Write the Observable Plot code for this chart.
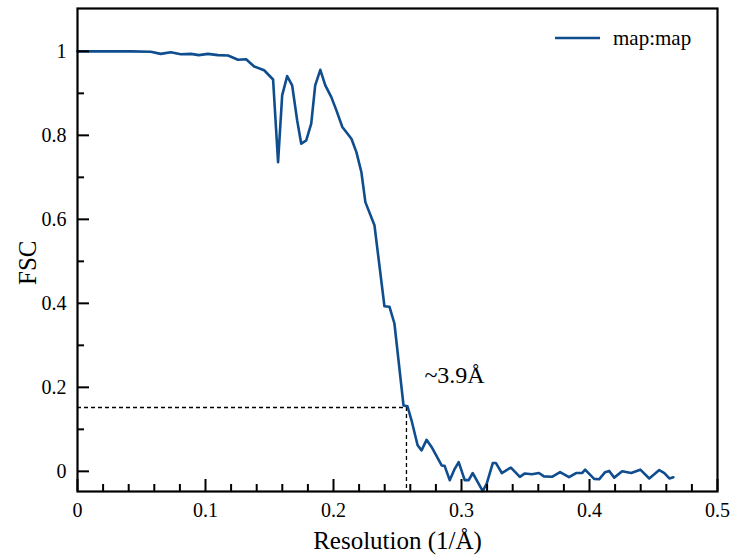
<!DOCTYPE html>
<html><head><meta charset="utf-8">
<script src="https://cdn.jsdelivr.net/npm/d3@7"></script>
<script src="https://cdn.jsdelivr.net/npm/@observablehq/plot@0.6"></script>
<style>
body{margin:0;background:#fff;}
</style>
</head><body><div id="chart"></div>
<script>
const resolution = [0,0.018,0.0415,0.0572,0.065,0.0729,0.0807,0.0886,0.0948,0.1019,0.1097,0.1176,0.1254,0.1317,0.138,0.1458,0.1528,0.1567,0.1599,0.1638,0.1677,0.1716,0.1748,0.1787,0.1826,0.1857,0.1897,0.1936,0.1983,0.2022,0.2069,0.2140,0.2179,0.2218,0.2249,0.2320,0.2398,0.2437,0.2476,0.2547,0.2578,0.2610,0.2657,0.2688,0.2727,0.2766,0.2845,0.2868,0.2908,0.2947,0.2978,0.3025,0.3056,0.3088,0.3166,0.3197,0.3245,0.3268,0.3315,0.3386,0.3456,0.3495,0.3550,0.3605,0.3644,0.3707,0.3770,0.3840,0.3895,0.3942,0.3966,0.4036,0.4075,0.4122,0.4154,0.4193,0.4255,0.4326,0.4397,0.4467,0.4545,0.4585,0.4624,0.4655];
const fsc = [1.000,1.000,1.000,0.999,0.994,0.998,0.993,0.994,0.991,0.994,0.991,0.990,0.980,0.981,0.964,0.955,0.933,0.736,0.895,0.941,0.919,0.836,0.780,0.788,0.828,0.919,0.956,0.919,0.891,0.860,0.820,0.792,0.760,0.712,0.641,0.586,0.393,0.392,0.352,0.157,0.155,0.121,0.062,0.050,0.075,0.058,0.014,0.013,-0.021,0.006,0.022,-0.021,-0.021,-0.004,-0.047,-0.029,0.020,0.020,-0.004,0.009,-0.013,-0.005,-0.007,-0.004,-0.012,-0.013,-0.002,-0.014,-0.004,-0.004,0.004,-0.018,-0.019,-0.002,0.001,-0.015,0.000,-0.004,0.004,-0.017,0.003,-0.004,-0.017,-0.014];
const xMajorTicks = [0,0.1,0.2,0.3,0.4,0.5];
const xMinorTicks = [0.02,0.04,0.06,0.08,0.12,0.14,0.16,0.18,0.22,0.24,0.26,0.28,0.32,0.34,0.36,0.38,0.42,0.44,0.46,0.48];
const yMajorTicks = [0,0.2,0.4,0.6,0.8,1];
const yMinorTicks = [0.1,0.3,0.5,0.7,0.9];
const cutoffFsc = 0.152;
const cutoffResolution = 0.257;
const annotation = {text: "~3.9Å", x: 0.271, y: 0.228};
const seriesName = "map:map";
const xLabel = "Resolution (1/Å)";
const yLabel = "FSC";
const xDomain = [0, 0.5];
const yDomain = [-0.048, 1.102];

const data = resolution.map((r, i) => ({r, f: fsc[i]}));
const blue = "#0f4d8e";
const font = "'Liberation Serif', 'Times New Roman', serif";

const plot = Plot.plot({
  width: 734, height: 558,
  marginLeft: 77, marginRight: 17, marginTop: 8, marginBottom: 67,
  style: {fontFamily: font, background: "white", color: "black"},
  x: {domain: xDomain},
  y: {domain: yDomain},
  marks: [
    Plot.ruleY([cutoffFsc], {x1: 0, x2: cutoffResolution, stroke: "black", strokeWidth: 1.3, strokeDasharray: "4,3"}),
    Plot.ruleX([cutoffResolution], {y1: cutoffFsc, y2: yDomain[0], stroke: "black", strokeWidth: 1.3, strokeDasharray: "4,3"}),
    Plot.line(data, {x: "r", y: "f", stroke: blue, strokeWidth: 2.6}),
    Plot.axisX(xMajorTicks, {tickSize: 12, dy: -12, stroke: "black", fill: "none", strokeWidth: 2, label: null}),
    Plot.axisX(xMinorTicks, {tickSize: 7, dy: -7, stroke: "black", fill: "none", strokeWidth: 2, label: null}),
    Plot.axisX(xMajorTicks, {tickSize: 0, tickPadding: 11, fontSize: 20, fill: "black", tickFormat: d => String(d), label: null}),
    Plot.axisY(yMajorTicks, {tickSize: 12, dx: 12, stroke: "black", fill: "none", strokeWidth: 2, label: null}),
    Plot.axisY(yMinorTicks, {tickSize: 7, dx: 7, stroke: "black", fill: "none", strokeWidth: 2, label: null}),
    Plot.axisY(yMajorTicks, {tickSize: 0, tickPadding: 11, fontSize: 20, fill: "black", tickFormat: d => String(d), label: null}),
    Plot.frame({stroke: "black", strokeWidth: 2.2}),
    Plot.text([xLabel], {frameAnchor: "bottom", dy: 49, lineAnchor: "middle", fontSize: 25, fill: "black", text: d => d}),
    Plot.text([yLabel], {frameAnchor: "left", rotate: -90, dx: -50, dy: 35, lineAnchor: "middle", fontSize: 25, fill: "black", text: d => d}),
    Plot.text([annotation], {x: "x", y: "y", text: "text", textAnchor: "start", lineAnchor: "middle", fontSize: 24, fill: "black"})
  ]
});
document.getElementById("chart").appendChild(plot);

// legend inside the frame
const svg = d3.select(plot);
const lg = svg.append("g").attr("class", "legend");
lg.append("line").attr("x1", 555).attr("x2", 600).attr("y1", 38).attr("y2", 38)
  .attr("stroke", blue).attr("stroke-width", 2.6);
lg.append("text").attr("x", 613).attr("y", 45).attr("text-anchor", "start")
  .attr("font-family", font).attr("font-size", 21).attr("fill", "black").text(seriesName);
</script>
</body></html>
